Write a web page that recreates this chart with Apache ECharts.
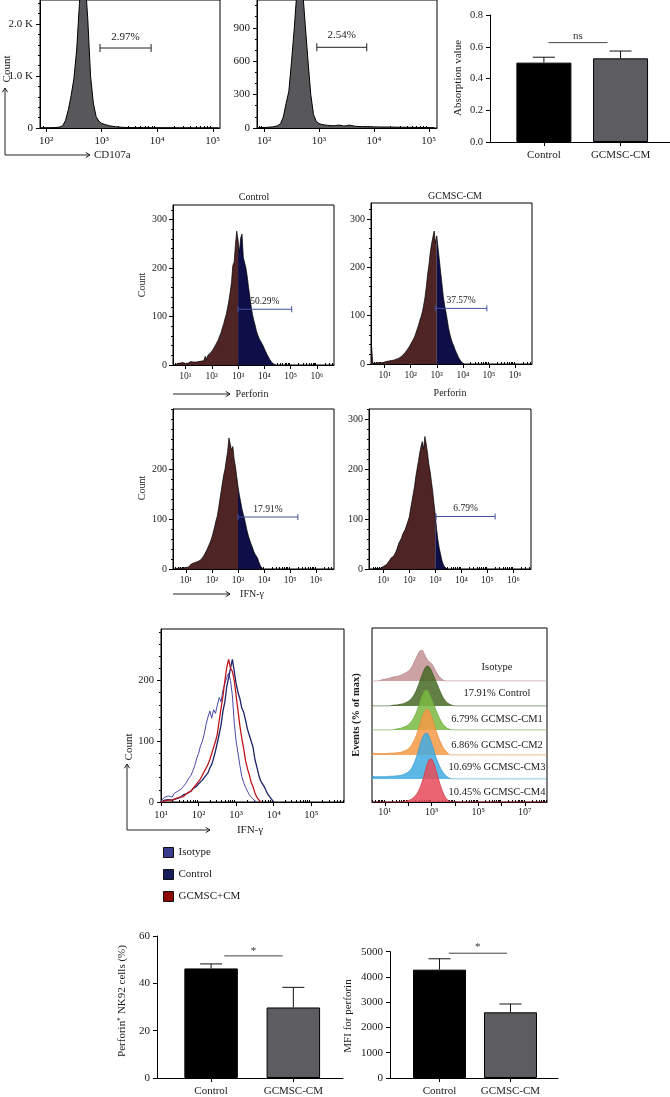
<!DOCTYPE html>
<html><head><meta charset="utf-8">
<script src="https://cdn.jsdelivr.net/npm/echarts@6/dist/echarts.min.js"></script>
<style>html,body{margin:0;padding:0;background:#fff}#c{width:670px;height:1097px}</style>
</head><body><div id="c"></div>
<script>
// ================= DATA =================
const HIST_STEP = 0.05;           // bin width, in decades (log10 units)
// CD107a histograms (counts), x = log10(intensity)
const cd107aControlStart = 1.9;
const cd107aControl = [3,3,4,5,6,8,12,20,45,150,350,620,950,1500,2400,3200,2900,2100,1000,480,220,130,90,70,55,40,32,26,20,15,12,10,9,8,8,7,7,6,6,6,5,5,5,5,4,4,4,4,4,3,3,3,3,3,3,2,2,2,2,2,2,2,2,2,2];
const cd107aGcmscStart = 1.9;
const cd107aGcmsc = [3,4,5,6,8,10,14,22,40,100,220,330,600,900,1250,1500,1250,920,600,300,120,60,40,32,28,24,22,20,22,26,24,18,20,26,22,16,14,13,12,12,11,11,10,10,10,9,9,9,8,8,8,7,7,7,6,6,6,5,5,5,5,4,4,4,3];
const cd107aGateText = ['2.97%', '2.54%'];
const cd107aGateRange = [[2.97, 3.89, 1540], [2.96, 3.87, 725]];

// Absorption bar chart
const barCategories = ['Control', 'GCMSC-CM'];
const absorption = [0.50, 0.527];
const absorptionErr = [0.034, 0.046];
const absorptionSig = ['ns', 1.06, 1.83, 0.626];

// Perforin / IFN-gamma histograms (counts)
const perforinControlStart = 0.6;
const perforinControl = [0,2,3,2,4,3,5,4,3,6, 4,5,7,5,6,8,6,9,7,10, 8,12,9,18,12,20,22,25,28,32, 36,42,46,52,60,66,76,84,95,104, 118,132,150,170,205,212,248,276,258,232, 262,270,222,218,200,182,160,140,120,104, 92,82,70,62,55,50,46,40,34,28, 22,18,12,8,4,2,1,0];
const perforinGcmscStart = 0.5;
const perforinGcmsc = [38,1,0,2,1,3,2,2,4,3, 3,5,4,6,5,7,6,8,9,10, 11,12,14,16,18,21,24,28,32,36, 40,46,50,56,64,72,80,90,98,108, 122,138,160,185,205,230,248,262,275,250, 265,240,215,190,165,140,122,108,92,75, 62,52,44,38,30,24,18,12,8,4, 2,0];
const ifnControlStart = 0.6;
const ifnControl = [0,1,2,1,2,3,2,4,3,5, 4,8,10,8,12,10,14,13,16,18, 20,24,28,32,38,44,50,56,64,74, 84,96,105,120,138,155,172,188,200,218, 235,262,250,238,245,220,205,185,165,148, 135,120,110,100,88,76,66,58,50,44, 36,30,26,22,14,8,2,0];
const ifnGcmscStart = 0.6;
const ifnGcmsc = [0,1,1,2,1,3,2,4,5,6, 8,10,14,16,22,18,26,30,36,44, 52,50,62,70,68,80,88,96,104,120, 135,150,165,185,200,215,232,245,255,240, 265,250,232,210,195,175,155,130,108,80, 58,42,30,18,10,5,2,0];
const gateText = ['50.29%', '37.57%', '17.91%', '6.79%'];
const gateRange = [[3.0, 5.04, 115], [2.94, 4.92, 115], [3.0, 5.3, 104], [3.03, 5.3, 105]];

// IFN-gamma overlay (counts)
const overlayStart = 1.0;
const overlayNames = ['Isotype', 'Control', 'GCMSC+CM'];
const overlayIsotype = [2,5,8,6,10,12,8,14,12,18, 15,22,26,30,28,40,44,52,60,72, 80,92,100,112,128,140,150,138,152,146, 160,172,165,185,195,205,212,200,175,130, 100,80,60,42,32,24,18,12,8,5, 2,0];
const overlayControl = [0,2,3,2,4,5,3,6,5,8, 7,10,12,10,14,16,18,22,20,26, 30,28,36,40,38,48,56,62,72,84, 98,112,128,150,165,190,205,220,235,215, 195,180,170,155,148,135,120,110,100,90, 70,58,45,35,30,25,18,12,8,4, 0];
const overlayGcmsc = [0,1,2,1,3,4,3,5,6,5, 8,10,9,12,15,14,18,22,26,30, 34,38,44,50,56,62,70,80,90,100, 112,135,155,175,200,222,235,220,215,200, 175,150,125,105,88,68,55,45,32,25, 15,8,4,0];

// Offset histograms (events, % of row height)
const STACK_STEP = 0.1;
const stackNames = ['Isotype', '17.91% Control', '6.79% GCMSC-CM1', '6.86% GCMSC-CM2', '10.69% GCMSC-CM3', '10.45% GCMSC-CM4'];
const stackStarts = [0.5, 1.2, 1.3, 0.5, 0.5, 1.7];
const stackIsotype = [0,0,0,1,3,4,5,6,8,9,10,11,13,15,18,21,26,35,45,56,65,67,58,48,42,38,30,20,12,6,2,0];
const stackControl = [0,1,2,2,3,4,5,7,10,14,20,28,40,54,68,80,87,85,76,64,52,40,28,18,11,6,3,1,0];
const stackCm1 = [0,1,2,3,4,6,8,11,16,23,32,45,60,74,85,87,80,68,55,42,30,20,12,7,3,1,0];
const stackCm2 = [4,3,3,3,3,3,3,4,4,4,5,5,6,8,10,13,18,26,36,50,66,82,94,100,96,84,68,52,38,26,16,9,4,0];
const stackCm3 = [6,5,5,5,5,5,5,6,6,6,7,7,8,10,12,15,20,28,40,55,72,88,98,100,92,78,62,46,33,22,14,8,4,1,0];
const stackCm4 = [0,1,2,3,5,8,13,20,30,44,62,80,92,93,84,68,50,33,20,10,4,1,0];

// Perforin+ cells and MFI bars
const perforinPct = [46.3, 29.8];
const perforinPctErr = [1.9, 8.5];
const perforinPctSig = ['*', 1.16, 1.87, 51.6];
const mfiPerforin = [4290, 2600];
const mfiPerforinErr = [430, 330];
const mfiSig = ['*', 1.13, 1.95, 4940];

// ================= HELPERS =================
const FONT = '"Liberation Serif", "Times New Roman", serif';
const TXT = '#1a1a1a';
const SUP = {'0':'⁰','1':'¹','2':'²','3':'³','4':'⁴','5':'⁵','6':'⁶','7':'⁷','8':'⁸','9':'⁹'};
function pow10(v){ return '10' + String(Math.round(v)).split('').map(c => SUP[c]).join(''); }
function toXY(start, step, vals){ return vals.map((v, i) => [Math.round((start + i * step) * 1000) / 1000, v]); }
function logMinors(min, max){ const o = []; for (let d = Math.floor(min); d <= Math.ceil(max); d++) for (let k = 2; k <= 9; k++){ const v = d + Math.log10(k); if (v > min && v < max) o.push(v); } return o; }
function decades(min, max){ const o = []; for (let d = Math.ceil(min); d <= Math.floor(max); d++) o.push(d); return o; }
function steps(max, s){ const o = []; for (let v = 0; v <= max + 1e-9; v += s) o.push(Math.round(v * 1000) / 1000); return o; }

const option = {
  animation: false, backgroundColor: '#fff',
  textStyle: { fontFamily: FONT },
  grid: [], xAxis: [], yAxis: [], series: [], graphic: { elements: [] }
};
const G = option.graphic.elements;

function addGrid(g){ option.grid.push(Object.assign({ containLabel: false }, g)); return option.grid.length - 1; }
function addX(a){ option.xAxis.push(a); return option.xAxis.length - 1; }
function addY(a){ option.yAxis.push(a); return option.yAxis.length - 1; }

function histPanel(cfg){
  const gi = addGrid({ left: cfg.left, top: cfg.top, width: cfg.width, height: cfg.height, show: true, borderColor: '#000', borderWidth: 1 });
  const xi = addX({ gridIndex: gi, type: 'value', position: 'bottom', min: cfg.xmin, max: cfg.xmax,
    axisLine: { onZero: false, lineStyle: { color: '#000', width: 1 } }, splitLine: { show: false },
    axisTick: { show: true, customValues: decades(cfg.xmin, cfg.xmax), length: 4, lineStyle: { color: '#000' } },
    axisLabel: { customValues: cfg.xLabels || decades(cfg.xmin, cfg.xmax), formatter: pow10, fontSize: cfg.fs, color: TXT, fontFamily: FONT, margin: cfg.xMargin } });
  addX({ gridIndex: gi, type: 'value', position: 'bottom', min: cfg.xmin, max: cfg.xmax,
    axisLine: { show: false }, splitLine: { show: false }, axisLabel: { show: false },
    axisTick: { show: true, inside: true, customValues: logMinors(cfg.xmin, cfg.xmax), length: 2, lineStyle: { color: '#000' } } });
  const yi = addY({ gridIndex: gi, type: 'value', position: 'left', min: 0, max: cfg.ymax,
    axisLine: { show: !cfg.hideY, onZero: false, lineStyle: { color: '#000' } }, splitLine: { show: false },
    axisTick: { show: !cfg.hideY, customValues: cfg.yLabels, length: 4, lineStyle: { color: '#000' } },
    axisLabel: { show: !cfg.hideY, customValues: cfg.yLabels, formatter: cfg.yFmt || (v => String(v)), fontSize: cfg.yfs || cfg.fs, color: TXT, fontFamily: FONT, margin: cfg.yMargin || 7 } });
  if (cfg.yMinor) addY({ gridIndex: gi, type: 'value', position: 'left', min: 0, max: cfg.ymax,
    axisLine: { show: false }, splitLine: { show: false }, axisLabel: { show: false },
    axisTick: { show: true, customValues: steps(cfg.ymax, cfg.yMinor), length: 2, lineStyle: { color: '#000' } } });
  return { gi, xi, yi };
}

function areaSeries(c, data, fill, lineColor, lw, z){
  return { type: 'line', xAxisIndex: c.xi, yAxisIndex: c.yi, data, showSymbol: false, symbol: 'none', z: z || 2,
    lineStyle: { color: lineColor, width: lw }, areaStyle: { color: fill, opacity: 1 }, silent: true };
}

function gateSeries(c, range, text, color, fs, capH, dy){
  return { type: 'custom', coordinateSystem: 'cartesian2d', xAxisIndex: c.xi, yAxisIndex: c.yi, z: 6, clip: false, silent: true,
    data: [range],
    renderItem(params, api){
      const a = api.coord([api.value(0), api.value(2)]), b = api.coord([api.value(1), api.value(2)]);
      const st = { stroke: color, lineWidth: 1 };
      return { type: 'group', children: [
        { type: 'line', shape: { x1: a[0], y1: a[1], x2: b[0], y2: b[1] }, style: st },
        { type: 'line', shape: { x1: a[0], y1: a[1] - capH, x2: a[0], y2: a[1] + capH }, style: st },
        { type: 'line', shape: { x1: b[0], y1: b[1] - capH, x2: b[0], y2: b[1] + capH }, style: st },
        { type: 'text', x: (a[0] + b[0]) / 2, y: a[1] - dy, style: { text, fontSize: fs, fontFamily: FONT, fill: TXT, align: 'center', verticalAlign: 'middle', textAlign: 'center', textVerticalAlign: 'middle' } }
      ] };
    } };
}

function text(x, y, s, fs, opts){
  opts = opts || {};
  G.push({ type: 'text', x, y, rotation: opts.rot || 0, z: 100, silent: true,
    style: { text: s, fontSize: fs, fontFamily: FONT, fontWeight: opts.bold ? 'bold' : 'normal', fill: TXT,
      align: opts.align || 'center', verticalAlign: 'middle', textAlign: opts.align || 'center', textVerticalAlign: 'middle' } });
}
function arrow(x1, y1, x2, y2){
  const ang = Math.atan2(y2 - y1, x2 - x1), h = 5, w = 0.55;
  const p1 = [x2 - h * Math.cos(ang - w), y2 - h * Math.sin(ang - w)];
  const p2 = [x2 - h * Math.cos(ang + w), y2 - h * Math.sin(ang + w)];
  G.push({ type: 'line', z: 100, silent: true, shape: { x1, y1, x2, y2 }, style: { stroke: '#222', lineWidth: 1 } });
  G.push({ type: 'polyline', z: 100, silent: true, shape: { points: [p1, [x2, y2], p2] }, style: { stroke: '#222', lineWidth: 1, fill: null } });
}

function barPanel(cfg){
  const gi = addGrid({ left: cfg.left, top: cfg.top, width: cfg.width, height: cfg.height });
  const xi = addX({ gridIndex: gi, type: 'value', position: 'bottom', min: cfg.xmin, max: cfg.xmax,
    axisLine: { onZero: false, lineStyle: { color: '#000', width: 1 } }, splitLine: { show: false },
    axisTick: { show: true, customValues: [1, 2], length: 4, lineStyle: { color: '#000' } },
    axisLabel: { customValues: [1, 2], formatter: v => barCategories[Math.round(v) - 1], fontSize: 11, color: TXT, fontFamily: FONT, margin: 8 } });
  const yi = addY({ gridIndex: gi, type: 'value', position: 'left', min: 0, max: cfg.ymax,
    axisLine: { show: true, onZero: false, lineStyle: { color: '#000' } }, splitLine: { show: false },
    axisTick: { show: true, customValues: cfg.yLabels, length: 4, lineStyle: { color: '#000' } },
    axisLabel: { customValues: cfg.yLabels, formatter: cfg.yFmt || (v => String(v)), fontSize: cfg.fs || 11, color: TXT, fontFamily: FONT, margin: 7 } });
  const colors = ['#000000', '#5d5d61'];
  option.series.push({ type: 'bar', xAxisIndex: xi, yAxisIndex: yi, barWidth: cfg.barWidth, silent: true, z: 2,
    data: cfg.values.map((v, i) => ({ value: [i + 1, v], itemStyle: { color: colors[i], borderColor: '#000', borderWidth: 1 } })) });
  option.series.push({ type: 'custom', coordinateSystem: 'cartesian2d', xAxisIndex: xi, yAxisIndex: yi, z: 4, silent: true, clip: false,
    data: cfg.values.map((v, i) => [i + 1, v, cfg.errs[i]]),
    renderItem(params, api){
      const p0 = api.coord([api.value(0), api.value(1)]), p1 = api.coord([api.value(0), api.value(1) + api.value(2)]);
      const st = { stroke: '#111', lineWidth: 1 }, cap = 11;
      return { type: 'group', children: [
        { type: 'line', shape: { x1: p0[0], y1: p0[1], x2: p1[0], y2: p1[1] }, style: st },
        { type: 'line', shape: { x1: p1[0] - cap, y1: p1[1], x2: p1[0] + cap, y2: p1[1] }, style: st } ] };
    } });
  const sig = cfg.sig;
  option.series.push({ type: 'custom', coordinateSystem: 'cartesian2d', xAxisIndex: xi, yAxisIndex: yi, z: 4, silent: true, clip: false,
    data: [[sig[1], sig[2], sig[3]]],
    renderItem(params, api){
      const a = api.coord([api.value(0), api.value(2)]), b = api.coord([api.value(1), api.value(2)]);
      return { type: 'group', children: [
        { type: 'line', shape: { x1: a[0], y1: a[1], x2: b[0], y2: b[1] }, style: { stroke: '#444', lineWidth: 1 } },
        { type: 'text', x: (a[0] + b[0]) / 2, y: a[1] - cfg.sigDy, style: { text: sig[0], fontSize: 11, fontFamily: FONT, fill: '#333', align: 'center', verticalAlign: 'middle', textAlign: 'center', textVerticalAlign: 'middle' } } ] };
    } });
}

function splitAt3(data){ return [data.filter(p => p[0] <= 3.0001), data.filter(p => p[0] >= 2.9999)]; }

// ================= PANEL 1 & 2: CD107a =================
const p1 = histPanel({ left: 40, top: -10, width: 180, height: 138, xmin: 1.89, xmax: 5.13, ymax: 2464, fs: 11, xMargin: 8,
  yLabels: [0, 1000, 2000], yFmt: v => v === 0 ? '0' : (v / 1000).toFixed(1) + ' K', yMinor: 200 });
option.series.push(areaSeries(p1, toXY(cd107aControlStart, HIST_STEP, cd107aControl), '#58585b', '#000', 1));
option.series.push(gateSeries(p1, cd107aGateRange[0], cd107aGateText[0], '#222', 11, 4, 11));

const p2 = histPanel({ left: 257, top: -10, width: 180, height: 138, xmin: 1.87, xmax: 5.15, ymax: 1150, fs: 11, xMargin: 8,
  yLabels: [0, 300, 600, 900], yMinor: 100 });
option.series.push(areaSeries(p2, toXY(cd107aGcmscStart, HIST_STEP, cd107aGcmsc), '#58585b', '#000', 1));
option.series.push(gateSeries(p2, cd107aGateRange[1], cd107aGateText[1], '#222', 11, 4, 12));

text(7, 69, 'Count', 11, { rot: Math.PI / 2 });
arrow(5, 155, 5, 88);
arrow(5, 155, 90, 155);
text(94, 155, 'CD107a', 11, { align: 'left' });

// ================= PANEL 3: absorption =================
barPanel({ left: 490, top: 15, width: 182, height: 127, xmin: 0.297, xmax: 2.645, ymax: 0.8, fs: 10.5,
  yLabels: [0, 0.2, 0.4, 0.6, 0.8], yFmt: v => v.toFixed(1), values: absorption, errs: absorptionErr, barWidth: 55, sig: absorptionSig, sigDy: 7 });
text(458, 78, 'Absorption value', 11, { rot: Math.PI / 2 });

// ================= PANELS 4-7: perforin / IFN-gamma =================
const brown = '#4e2424', navy = '#0e0e48', gateBlue = '#43529f';
const midPanels = [
  { left: 173, top: 205, width: 161, height: 160, xmin: 0.525, xmax: 6.65, ymax: 330, labels: [0, 100, 200, 300], start: perforinControlStart, vals: perforinControl },
  { left: 371, top: 203, width: 161, height: 161, xmin: 0.48, xmax: 6.65, ymax: 333, labels: [0, 100, 200, 300], start: perforinGcmscStart, vals: perforinGcmsc },
  { left: 173, top: 409, width: 161, height: 160, xmin: 0.5, xmax: 6.69, ymax: 320, labels: [0, 100, 200], start: ifnControlStart, vals: ifnControl },
  { left: 369, top: 409, width: 162, height: 160, xmin: 0.45, xmax: 6.68, ymax: 320, labels: [0, 100, 200, 300], start: ifnGcmscStart, vals: ifnGcmsc }
];
midPanels.forEach((m, i) => {
  const c = histPanel({ left: m.left, top: m.top, width: m.width, height: m.height, xmin: m.xmin, xmax: m.xmax, ymax: m.ymax,
    fs: 9.5, yfs: 10, xMargin: 6, yMargin: 6, yLabels: m.labels, yMinor: 20 });
  const parts = splitAt3(toXY(m.start, HIST_STEP, m.vals));
  option.series.push(areaSeries(c, parts[0], brown, '#000', 0.7));
  option.series.push(areaSeries(c, parts[1], navy, '#000', 0.7));
  option.series.push(gateSeries(c, gateRange[i], gateText[i], gateBlue, 9.5, 3, 8));
});
text(254, 197, 'Control', 10);
text(455, 196, 'GCMSC-CM', 10);
text(142, 285, 'Count', 10, { rot: Math.PI / 2 });
text(142, 488, 'Count', 10, { rot: Math.PI / 2 });
arrow(173, 394, 230, 394);
text(252, 394, 'Perforin', 10);
text(450, 393, 'Perforin', 10);
arrow(173, 594, 230, 594);
text(252, 594, 'IFN-γ', 10);

// ================= PANEL 8: overlay =================
const p8 = histPanel({ left: 161, top: 629, width: 183, height: 173, xmin: 1.0, xmax: 5.87, ymax: 285, fs: 10.5, xMargin: 8,
  yLabels: [0, 100, 200], yMinor: 20 });
const overlayColors = ['#4a4aa6', '#1b2268', '#c0151d'];
const overlayLegendColors = ['#3b3b8e', '#161d5a', '#8e0a0a'];
[overlayIsotype, overlayControl, overlayGcmsc].forEach((vals, i) => {
  option.series.push({ type: 'line', name: overlayNames[i], xAxisIndex: p8.xi, yAxisIndex: p8.yi, data: toXY(overlayStart, HIST_STEP, vals),
    showSymbol: false, symbol: 'none', silent: true, z: 3 + i, itemStyle: { color: overlayColors[i] },
    lineStyle: { color: overlayColors[i], width: i === 0 ? 1 : 1.3 } });
});
option.legend = { orient: 'vertical', left: 163, top: 847, padding: 0, itemWidth: 10, itemHeight: 10, itemGap: 11, icon: 'rect',
  selectedMode: false, textStyle: { fontSize: 11, fontFamily: FONT, color: TXT },
  data: overlayNames.map((n, i) => ({ name: n, itemStyle: { color: overlayLegendColors[i], borderColor: '#111', borderWidth: 1 } })) };
text(129, 747, 'Count', 11, { rot: Math.PI / 2 });
arrow(127, 830, 127, 764);
arrow(127, 830, 210, 830);
text(250, 830, 'IFN-γ', 11);

// ================= PANEL 9: offset histograms =================
const p9 = histPanel({ left: 372, top: 628, width: 175, height: 174, xmin: 0.45, xmax: 7.95, ymax: 100, fs: 10, xMargin: 5,
  xLabels: [1, 3, 5, 7], yLabels: [], hideY: true });
const stackVals = [stackIsotype, stackControl, stackCm1, stackCm2, stackCm3, stackCm4];
const stackFill = ['rgba(196,146,148,0.85)', 'rgba(70,104,38,0.85)', 'rgba(122,186,66,0.85)', 'rgba(246,154,70,0.85)', 'rgba(66,172,226,0.85)', 'rgba(230,74,88,0.85)'];
const stackLine = ['#b88a8c', '#3f5f22', '#6aa83a', '#e88c3c', '#3a9dd0', '#d4404c'];
const rowBase = [681, 706, 730, 755, 779, 802];
stackVals.forEach((vals, i) => {
  const gi = addGrid({ left: 372, top: rowBase[i] - 46, width: 175, height: 46 });
  const xi = addX({ gridIndex: gi, type: 'value', min: 0.45, max: 7.95, show: false });
  const yi = addY({ gridIndex: gi, type: 'value', min: 0, max: 100, show: false });
  const d = [[0.45, 0]].concat(toXY(stackStarts[i], STACK_STEP, vals), [[7.95, 0]]);
  option.series.push({ type: 'line', xAxisIndex: xi, yAxisIndex: yi, data: d, smooth: 0.3, showSymbol: false, symbol: 'none', silent: true, z: 2,
    lineStyle: { color: stackLine[i], width: 0.8 }, areaStyle: { color: stackFill[i], opacity: 1 } });
});
const rowLabelY = [667, 693, 719, 745, 767, 792];
stackNames.forEach((n, i) => text(497, rowLabelY[i], n, 10.5));
text(356, 715, 'Events (% of max)', 10.5, { rot: Math.PI / 2, bold: true });

// ================= PANELS 10 & 11 =================
barPanel({ left: 157, top: 936, width: 186, height: 143.3, xmin: 0.342, xmax: 2.604, ymax: 60,
  yLabels: [0, 20, 40, 60], values: perforinPct, errs: perforinPctErr, barWidth: 53.5, sig: perforinPctSig, sigDy: 5 });
text(122, 1001, 'Perforin⁺ NK92 cells (%)', 11, { rot: Math.PI / 2 });
barPanel({ left: 390, top: 951.7, width: 168, height: 127.3, xmin: 0.303, xmax: 2.669, ymax: 5000,
  yLabels: [0, 1000, 2000, 3000, 4000, 5000], values: mfiPerforin, errs: mfiPerforinErr, barWidth: 53, sig: mfiSig, sigDy: 6 });
text(348, 1016, 'MFI for perforin', 11, { rot: Math.PI / 2 });

const chart = echarts.init(document.getElementById('c'), null, { renderer: 'canvas' });
chart.setOption(option);
</script>
</body></html>
